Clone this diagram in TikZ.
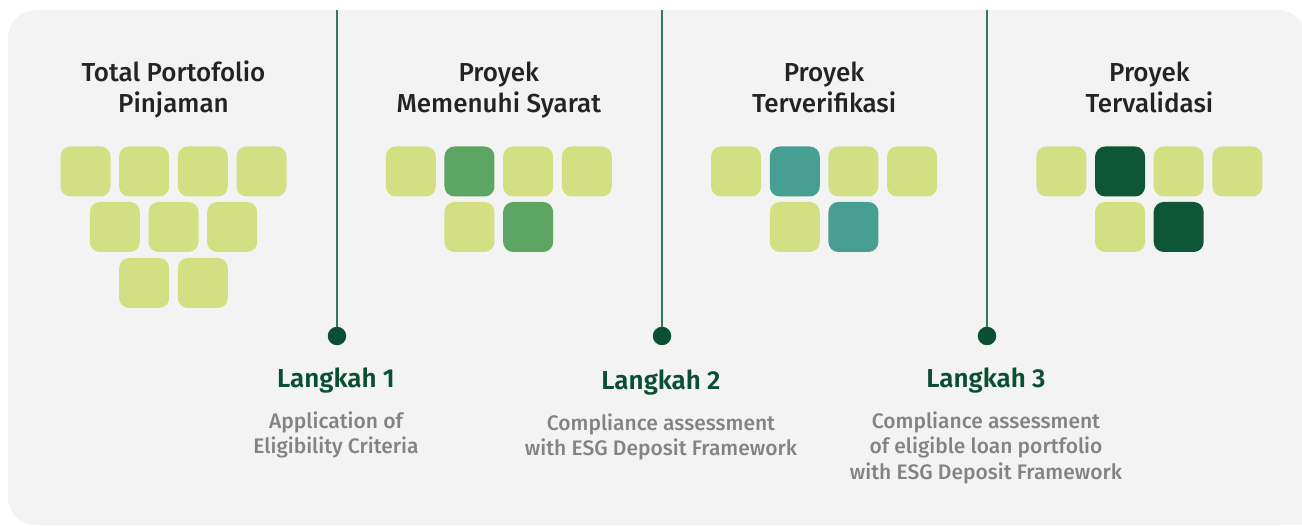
\documentclass[tikz,border=0pt]{standalone}
\usepackage{fontspec}
\setmainfont{Fira Sans}
\newfontfamily\medfont{Fira Sans Medium}
\newfontfamily\semifont{Fira Sans SemiBold}

\definecolor{panelgray}{HTML}{F3F3F3}
\definecolor{lightlime}{HTML}{D2E083}
\definecolor{midgreen}{HTML}{5DA562}
\definecolor{tealgreen}{HTML}{479F94}
\definecolor{deepgreen}{HTML}{0E5638}
\definecolor{stemgreen}{HTML}{2F7A5F}
\definecolor{dotgreen}{HTML}{0A4F33}
\definecolor{titleblack}{HTML}{232323}
\definecolor{descgray}{HTML}{838383}

\begin{document}
\begin{tikzpicture}[x=1pt, y=-1pt]
  \tikzset{
    panel/.style={fill=panelgray},
    tile/.style={rectangle, rounded corners=10pt, minimum size=50pt, inner sep=0pt, fill=lightlime},
    title/.style={anchor=base, align=center, text=titleblack, font=\medfont\fontsize{26}{31}\selectfont},
    stepname/.style={anchor=base, text=dotgreen, font=\semifont\fontsize{26}{31}\selectfont},
    stepdesc/.style={anchor=base, align=center, text=descgray, font=\medfont\fontsize{21}{25.5}\selectfont},
    stem/.style={stemgreen, line width=2pt},
    dot/.style={circle, fill=dotgreen, minimum size=18.5pt, inner sep=0pt}
  }
  \useasboundingbox (0,0) rectangle (1302,526);

  % Hintergrund
  \fill[panel, rounded corners=28pt] (8,10) rectangle (1306,525);
  \fill[panel] (1250,480) rectangle (1306,525);

  % --- Kolom 1 ---
  % (base = baseline of the last line)
  \node[title] (t1) at (173.5,113) {Total Portofolio\\Pinjaman};
  \foreach \i/\dx in {1/-88,2/-29.33,3/29.33,4/88}
    \node[tile] (a1-\i) at (173.5+\dx,171.5) {};
  \foreach \i/\dx in {1/-58.67,2/0,3/58.67}
    \node[tile] (b1-\i) at (173.5+\dx,227) {};
  \foreach \i/\dx in {1/-29.33,2/29.33}
    \node[tile] (c1-\i) at (173.5+\dx,283) {};

  % --- Kolom 2 sampai 4 ---
  \foreach \k/\cx/\hl/\name in {2/498.8/midgreen/Memenuhi Syarat,
      3/824.1/tealgreen/Terverifikasi, 4/1149.4/deepgreen/Tervalidasi} {
    \node[title] (t\k) at (\cx,113) {Proyek\\\name};
    \node[tile] (a\k-1) at (\cx-88,171.5) {};
    \node[tile, fill=\hl] (a\k-2) at (\cx-29.33,171.5) {};
    \node[tile] (a\k-3) at (\cx+29.33,171.5) {};
    \node[tile] (a\k-4) at (\cx+88,171.5) {};
    \node[tile] (b\k-1) at (\cx-29.33,227) {};
    \node[tile, fill=\hl] (b\k-2) at (\cx+29.33,227) {};
  }

  % --- Langkah ---
  \foreach \s/\x/\ly/\dly/\txt in {1/337/388/454/{Application of\\Eligibility Criteria},
      2/662/390/456/{Compliance assessment\\with ESG Deposit Framework},
      3/987/388/479.5/{Compliance assessment\\of eligible loan portfolio\\with ESG Deposit Framework}} {
    \coordinate (top\s) at (\x,10);
    \node[dot] (dot\s) at (\x,336) {};
    \draw[stem] (top\s) -- (dot\s);
    \node[stepname] (lk\s) at (\x-1,\ly) {Langkah \s};
    \node[stepdesc] (ds\s) at (\x-1,\dly) {\txt};
  }
\end{tikzpicture}
\end{document}
